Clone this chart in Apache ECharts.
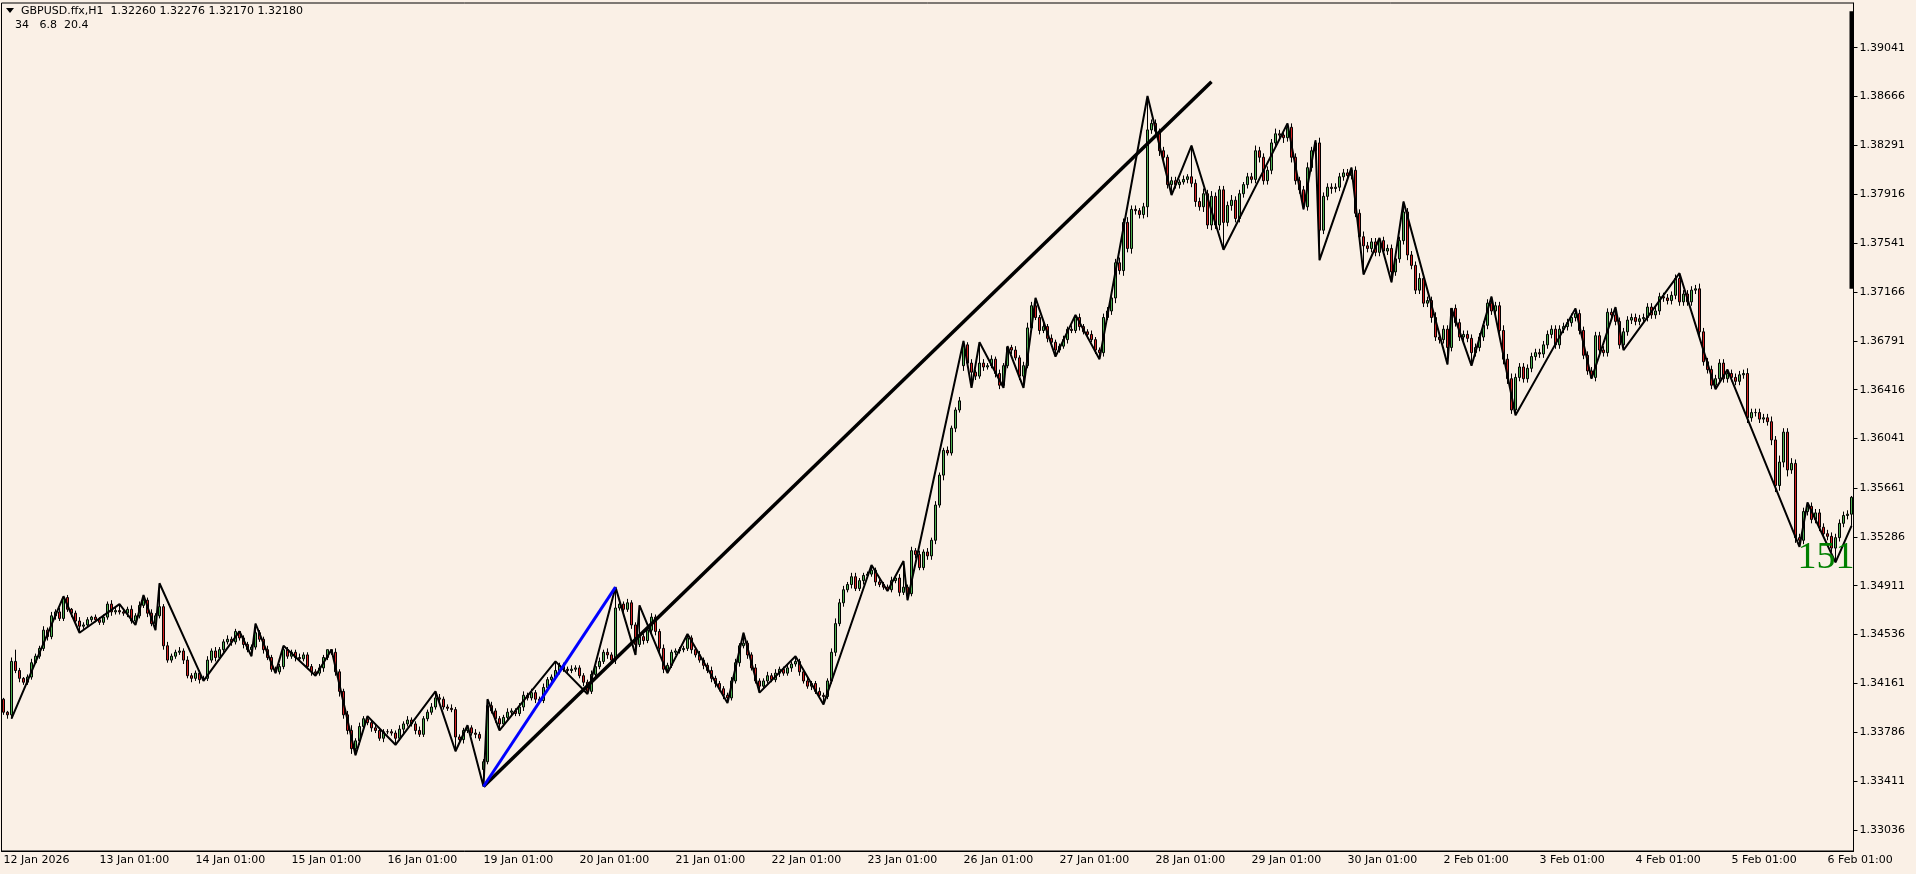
<!DOCTYPE html>
<html><head><meta charset="utf-8">
<script src="https://cdn.jsdelivr.net/npm/echarts@6/dist/echarts.min.js"></script>
<style>html,body{margin:0;padding:0;background:#FAF0E6;overflow:hidden}#c{width:1916px;height:874px}</style>
</head><body><div id="c"></div>
<script>
// ---- data (GBPUSD H1) ----
const tradingDays = ['12 Jan','13 Jan','14 Jan','15 Jan','16 Jan','19 Jan','20 Jan','21 Jan','22 Jan','23 Jan',
  '26 Jan','27 Jan','28 Jan','29 Jan','30 Jan','2 Feb','3 Feb','4 Feb','5 Feb','6 Feb'];
const firstLabel = '12 Jan 2026';
const firstOpen = 1.3404;
const gapOpens = [[120, 1.3350], [240, 1.3660]];

const closeWeek1 = [
1.3394,1.3392,1.3433,1.3426,1.3420,1.3417,1.3421,1.3432,1.3437,1.3443,1.3457,1.3452,1.3468,1.3471,1.3466,1.3482,1.3473,1.3470,1.3464,1.3460,1.3461,1.3465,1.3467,1.3465,
1.3463,1.3467,1.3477,1.3471,1.3472,1.3471,1.3470,1.3473,1.3464,1.3468,1.3476,1.3480,1.3470,1.3462,1.3468,1.3475,1.3445,1.3434,1.3437,1.3440,1.3441,1.3434,1.3422,1.3420,
1.3424,1.3419,1.3420,1.3434,1.3441,1.3436,1.3442,1.3448,1.3450,1.3448,1.3456,1.3451,1.3446,1.3442,1.3444,1.3455,1.3450,1.3442,1.3436,1.3427,1.3425,1.3429,1.3442,1.3437,
1.3440,1.3436,1.3435,1.3438,1.3429,1.3425,1.3424,1.3428,1.3436,1.3442,1.3440,1.3425,1.3410,1.3392,1.3380,1.3366,1.3372,1.3383,1.3389,1.3386,1.3382,1.3380,1.3374,1.3379,
1.3379,1.3378,1.3374,1.3381,1.3385,1.3388,1.3385,1.3380,1.3377,1.3389,1.3394,1.3398,1.3405,1.3404,1.3398,1.3397,1.3396,1.3375,1.3373,1.3380,1.3382,1.3378,1.3377,1.3374];
const closeWeek2 = [
1.3356,1.3399,1.3395,1.3389,1.3385,1.3390,1.3394,1.3395,1.3393,1.3398,1.3407,1.3405,1.3409,1.3404,1.3403,1.3413,1.3419,1.3421,1.3426,1.3430,1.3427,1.3426,1.3427,1.3428,
1.3422,1.3417,1.3410,1.3423,1.3429,1.3433,1.3440,1.3438,1.3434,1.3474,1.3477,1.3473,1.3478,1.3461,1.3446,1.3452,1.3449,1.3457,1.3467,1.3456,1.3443,1.3427,1.3430,1.3440,
1.3441,1.3442,1.3443,1.3451,1.3442,1.3438,1.3434,1.3430,1.3426,1.3420,1.3416,1.3412,1.3407,1.3405,1.3418,1.3432,1.3445,1.3447,1.3438,1.3428,1.3418,1.3414,1.3418,1.3422,
1.3419,1.3424,1.3427,1.3424,1.3428,1.3431,1.3433,1.3425,1.3418,1.3414,1.3416,1.3410,1.3407,1.3406,1.3418,1.3440,1.3462,1.3478,1.3488,1.3492,1.3498,1.3489,1.3495,1.3499,
1.3500,1.3503,1.3494,1.3492,1.3490,1.3488,1.3495,1.3497,1.3486,1.3490,1.3485,1.3518,1.3515,1.3505,1.3517,1.3514,1.3526,1.3553,1.3576,1.3595,1.3593,1.3612,1.3626,1.3633];
const closeWeek3 = [
1.3676,1.3662,1.3655,1.3652,1.3662,1.3659,1.3660,1.3665,1.3654,1.3645,1.3660,1.3674,1.3672,1.3666,1.3652,1.3660,1.3689,1.3706,1.3697,1.3687,1.3690,1.3681,1.3678,1.3672,
1.3675,1.3680,1.3688,1.3687,1.3697,1.3690,1.3686,1.3684,1.3680,1.3672,1.3670,1.3697,1.3702,1.3712,1.3739,1.3733,1.3770,1.3750,1.3780,1.3779,1.3776,1.3782,1.3841,1.3846,
1.3840,1.3825,1.3820,1.3799,1.3802,1.3799,1.3801,1.3803,1.3805,1.3800,1.3786,1.3782,1.3792,1.3768,1.3790,1.3768,1.3795,1.3770,1.3783,1.3787,1.3773,1.3792,1.3799,1.3805,
1.3803,1.3825,1.3820,1.3802,1.3810,1.3831,1.3838,1.3837,1.3835,1.3843,1.3820,1.3802,1.3795,1.3782,1.3812,1.3825,1.3831,1.3764,1.3790,1.3797,1.3796,1.3797,1.3805,1.3808,
1.3806,1.3810,1.3777,1.3759,1.3752,1.3750,1.3755,1.3747,1.3756,1.3748,1.3750,1.3732,1.3742,1.3756,1.3778,1.3745,1.3737,1.3718,1.3727,1.3708,1.3710,1.3697,1.3682,1.3680];
const closeWeek4 = [
1.3688,1.3674,1.3704,1.3693,1.3682,1.3684,1.3681,1.3670,1.3674,1.3682,1.3691,1.3708,1.3702,1.3706,1.3687,1.3665,1.3650,1.3626,1.3651,1.3659,1.3650,1.3658,1.3667,1.3670,
1.3669,1.3676,1.3684,1.3688,1.3676,1.3688,1.3690,1.3693,1.3697,1.3700,1.3687,1.3668,1.3656,1.3651,1.3683,1.3672,1.3670,1.3701,1.3699,1.3694,1.3676,1.3686,1.3695,1.3697,
1.3694,1.3696,1.3697,1.3705,1.3699,1.3702,1.3713,1.3712,1.3710,1.3714,1.3727,1.3709,1.3715,1.3709,1.3718,1.3719,1.3686,1.3663,1.3657,1.3645,1.3650,1.3662,1.3650,1.3654,
1.3651,1.3648,1.3653,1.3654,1.3620,1.3624,1.3624,1.3619,1.3620,1.3617,1.3603,1.3568,1.3586,1.3609,1.3580,1.3585,1.3528,1.3526,1.3548,1.3552,1.3542,1.3547,1.3536,1.3531,
1.3529,1.3520,1.3528,1.3539,1.3545,1.3546,1.3559];

// upper / lower wick lengths in pips
const hiWickPips = [
1,1,3,9,2,1,2,3,2,2,3,2,3,2,3,1,2,1,2,3,2,2,1,2,
2,2,2,3,2,5,2,2,3,2,3,4,2,3,2,18,2,3,2,2,3,2,3,2,
2,2,2,3,2,3,2,2,3,2,2,0,2,2,2,7,2,2,3,2,2,2,3,2,
2,2,3,2,2,2,2,3,2,0,0,3,2,2,3,4,2,3,2,2,2,3,2,2,
2,2,2,3,2,3,2,2,3,2,2,3,5,3,2,2,3,2,2,2,2,2,3,2,
2,5,3,2,2,2,3,2,2,3,3,2,3,2,2,3,2,2,7,2,2,2,3,2,
2,2,2,3,2,3,2,3,2,16,3,2,3,2,2,24,2,3,3,2,2,3,2,2,
2,2,2,3,2,2,3,2,2,3,2,2,2,2,3,3,2,8,2,2,3,2,2,3,
2,3,2,2,3,2,4,2,2,3,2,2,3,2,2,3,4,3,3,2,3,3,2,2,
2,4,2,3,2,2,3,2,3,20,2,3,2,3,2,3,2,3,2,2,3,2,2,3,
3,2,3,2,16,3,2,3,2,3,2,1,2,3,2,3,4,3,6,2,3,2,3,2,
2,3,2,3,2,3,2,2,3,2,2,3,3,4,3,4,3,4,3,3,2,3,26,3,
3,2,3,2,3,3,2,3,2,24,3,3,4,3,4,3,3,3,3,4,3,3,2,3,
3,4,3,3,3,3,4,3,2,3,3,3,3,3,4,3,2,4,3,3,3,3,3,3,
3,2,3,3,4,3,3,3,2,3,3,3,3,3,8,3,3,3,4,3,3,3,4,3,
3,3,0,3,3,3,3,3,3,3,3,3,5,3,3,4,4,4,3,3,3,3,3,3,
3,3,3,3,3,3,3,3,3,4,3,3,3,3,3,3,3,3,3,6,3,3,3,3,
3,3,3,3,3,3,3,3,3,3,3,4,3,3,3,3,4,3,3,3,3,3,3,3,
3,3,3,3,4,3,3,3,3,3,4,3,5,3,3,4,3,3,3,3,3,3,3,3,
3,3,3,3,3,3,1];
const loWickPips = [
2,3,3,2,3,2,2,2,1,2,2,3,2,3,2,2,2,3,2,5,2,2,2,2,
2,2,2,3,2,2,2,3,2,3,2,2,3,2,5,2,3,2,2,2,2,3,2,3,
2,3,1,2,2,3,2,2,2,3,2,2,3,2,5,2,2,3,2,2,1,2,2,2,
2,3,2,2,2,3,2,2,3,2,2,3,4,3,3,4,5,3,2,2,3,2,2,3,
2,2,5,2,3,2,2,3,2,2,2,2,2,3,2,2,2,11,2,3,2,2,3,2,
13,2,2,3,5,2,2,3,2,2,3,2,2,3,2,2,2,2,2,3,2,2,2,2,
2,3,2,2,3,2,2,3,2,3,2,3,2,3,8,2,3,2,2,3,4,3,3,2,
2,2,2,2,3,2,2,3,2,3,3,2,3,4,2,2,3,2,3,2,2,5,2,2,
2,2,3,2,2,3,2,3,2,2,3,2,2,6,2,2,3,2,3,2,3,2,2,3,
2,2,3,2,2,1,2,2,3,2,5,2,3,2,2,3,3,3,2,4,2,2,3,2,
4,3,12,3,2,3,2,2,3,3,2,2,3,2,3,9,2,3,2,3,2,3,3,5,
2,2,3,2,2,3,2,3,2,3,5,3,2,3,4,3,4,3,4,3,3,3,8,3,
3,4,3,3,8,3,3,2,3,3,4,3,4,3,4,3,4,21,3,4,3,3,3,3,
3,3,4,3,3,3,3,3,4,3,4,3,3,2,3,3,3,23,3,3,4,3,3,3,
3,3,3,4,22,3,3,3,3,3,3,8,3,3,3,4,3,3,3,3,3,4,3,3,
3,13,3,3,3,3,3,10,3,3,3,3,3,3,3,4,4,3,4,3,3,3,3,3,
3,3,3,3,3,3,3,3,3,3,3,3,3,1,3,3,3,3,3,3,3,4,3,3,
3,3,3,3,3,3,3,3,3,3,3,3,3,3,3,3,4,3,3,3,3,3,3,3,
3,3,3,3,4,3,3,3,3,3,4,5,4,4,5,3,4,5,3,3,3,3,3,3,
3,3,11,3,3,3,9];

// zigzag swing points [barIndex, price]
const zigzag = [[2,1.3389],[15,1.3483],[19,1.3455],[29,1.3477],[33,1.3461],[35,1.3484],[38,1.3457],[39,1.3493],
[50,1.3418],[59,1.3456],[62,1.3437],[63,1.3462],[68,1.3424],[70,1.3445],[78,1.3422],[82,1.3442],[88,1.3361],
[91,1.3391],[98,1.3369],[108,1.3410],[113,1.3364],[116,1.3384],[120,1.3337],[121,1.3404],[124,1.3380],
[138,1.3433],[146,1.3408],[153,1.3490],[158,1.3438],[159,1.3476],[166,1.3424],[171,1.3454],[181,1.3401],
[185,1.3455],[189,1.3409],[198,1.3437],[205,1.3400],[217,1.3507],[221,1.3487],[225,1.3510],[226,1.3480],
[240,1.3679],[242,1.3643],[244,1.3678],[250,1.3643],[251,1.3675],[255,1.3643],[258,1.3712],[263,1.3667],
[268,1.3699],[274,1.3665],[286,1.3867],[292,1.3791],[297,1.3829],[305,1.3749],[321,1.3846],[325,1.3780],
[328,1.3833],[329,1.3741],[337,1.3812],[340,1.3730],[344,1.3758],[347,1.3724],[350,1.3786],[361,1.3661],
[362,1.3704],[367,1.3660],[372,1.3713],[378,1.3622],[393,1.3704],[397,1.3650],[403,1.3705],[405,1.3672],
[419,1.3731],[428,1.3642],[431,1.3657],[449,1.3521],[451,1.3555],[458,1.3509],[462,1.3537]];
const trendLine = [[120,1.3337],[302,1.3878]];
const blueLine = [[120,1.3337],[153,1.3490]];
const sideBar = [[462,1.3932],[462,1.3719]];
const yTickValues = [1.39041,1.38666,1.38291,1.37916,1.37541,1.37166,1.36791,1.36416,1.36041,1.35661,
  1.35286,1.34911,1.34536,1.34161,1.33786,1.33411,1.33036];
const headerLine1 = 'GBPUSD.ffx,H1  1.32260 1.32276 1.32170 1.32180';
const headerLine2 = '34   6.8  20.4';
const bigLabelText = '1518';
const bigLabelAt = [449, 1.3512];

// ---- build ----
const closes = closeWeek1.concat(closeWeek2, closeWeek3, closeWeek4);
const gapMap = new Map(gapOpens);
const pad = n => (n < 10 ? '0' : '') + n;
const categories = closes.map((_, i) => {
  const d = Math.floor((i + 1) / 24), h = (i + 1) % 24;
  return tradingDays[d] + ' ' + pad(h) + ':00';
});
const r5 = v => Math.round(v * 100000) / 100000;
const candles = closes.map((c, i) => {
  const o = i === 0 ? firstOpen : (gapMap.has(i) ? gapMap.get(i) : closes[i - 1]);
  const hi = r5(Math.max(o, c) + hiWickPips[i] * 0.0001);
  const lo = r5(Math.min(o, c) - loWickPips[i] * 0.0001);
  return [o, c, lo, hi];
});

const FONT = 'DejaVu Sans';
const labelEvery = (idx) => idx % 24 === 0;
const chart = echarts.init(document.getElementById('c'), null, {renderer: 'canvas'});
chart.setOption({
  animation: false,
  backgroundColor: '#FAF0E6',
  grid: {left: 1.5, top: 3, width: 1852, height: 848, show: true, borderColor: '#000', borderWidth: 1, backgroundColor: 'transparent'},
  xAxis: {
    type: 'category', data: categories, boundaryGap: true,
    axisLine: {lineStyle: {color: '#000', width: 1}},
    axisTick: {interval: labelEvery, alignWithLabel: true, length: 4, lineStyle: {color: '#000'}},
    axisLabel: {interval: labelEvery, align: 'left', margin: 4, color: '#000', fontFamily: FONT, fontSize: 11,
      formatter: (v, idx) => idx === 0 ? firstLabel : v},
    splitLine: {show: false}
  },
  yAxis: {
    type: 'value', position: 'right', min: 1.328746, max: 1.393841, scale: true,
    axisLine: {show: true, lineStyle: {color: '#000'}},
    axisTick: {show: true, customValues: yTickValues, length: 4, lineStyle: {color: '#000'}},
    axisLabel: {customValues: yTickValues, margin: 6, color: '#000', fontFamily: FONT, fontSize: 11,
      formatter: v => Number(v).toFixed(5)},
    splitLine: {show: false}
  },
  graphic: [
    {type: 'polygon', shape: {points: [[6, 8], [14, 8], [10, 13]]}, style: {fill: '#000'}},
    {type: 'text', x: 21, y: 11, style: {text: headerLine1, fill: '#000', font: '11px "DejaVu Sans"', textVerticalAlign: 'middle', verticalAlign: 'middle'}},
    {type: 'text', x: 15, y: 25, style: {text: headerLine2, fill: '#000', font: '11px "DejaVu Sans"', textVerticalAlign: 'middle', verticalAlign: 'middle'}}
  ],
  series: [
    {type: 'candlestick', data: candles, barWidth: 3, z: 2,
      itemStyle: {color: '#4CAF50', color0: '#D42020', borderColor: '#000', borderColor0: '#000', borderColorDoji: '#000', borderWidth: 1}},
    {type: 'line', data: zigzag, symbol: 'none', z: 3, lineStyle: {color: '#000', width: 2}},
    {type: 'line', data: trendLine, symbol: 'none', z: 4, lineStyle: {color: '#000', width: 3.5}},
    {type: 'line', data: blueLine, symbol: 'none', z: 4, lineStyle: {color: '#0000FF', width: 3}},
    {type: 'line', data: sideBar, symbol: 'none', z: 4, lineStyle: {color: '#000', width: 4}},
    {type: 'custom', data: [bigLabelAt], z: 5, silent: true,
      renderItem: (params, api) => {
        const p = api.coord([api.value(0), api.value(1)]);
        const cs = params.coordSys;
        const tx = p[0] - 2, ty = p[1];
        return {type: 'group', x: tx, y: ty,
          clipPath: {type: 'rect', shape: {x: cs.x - tx, y: cs.y - ty, width: cs.width, height: cs.height}},
          children: [{type: 'text', x: 0, y: 0,
            style: {text: bigLabelText, fill: '#008000', font: '38px "Liberation Serif"', textAlign: 'left', textVerticalAlign: 'middle', align: 'left', verticalAlign: 'middle'}}]};
      }}
  ]
});
</script>
</body></html>
